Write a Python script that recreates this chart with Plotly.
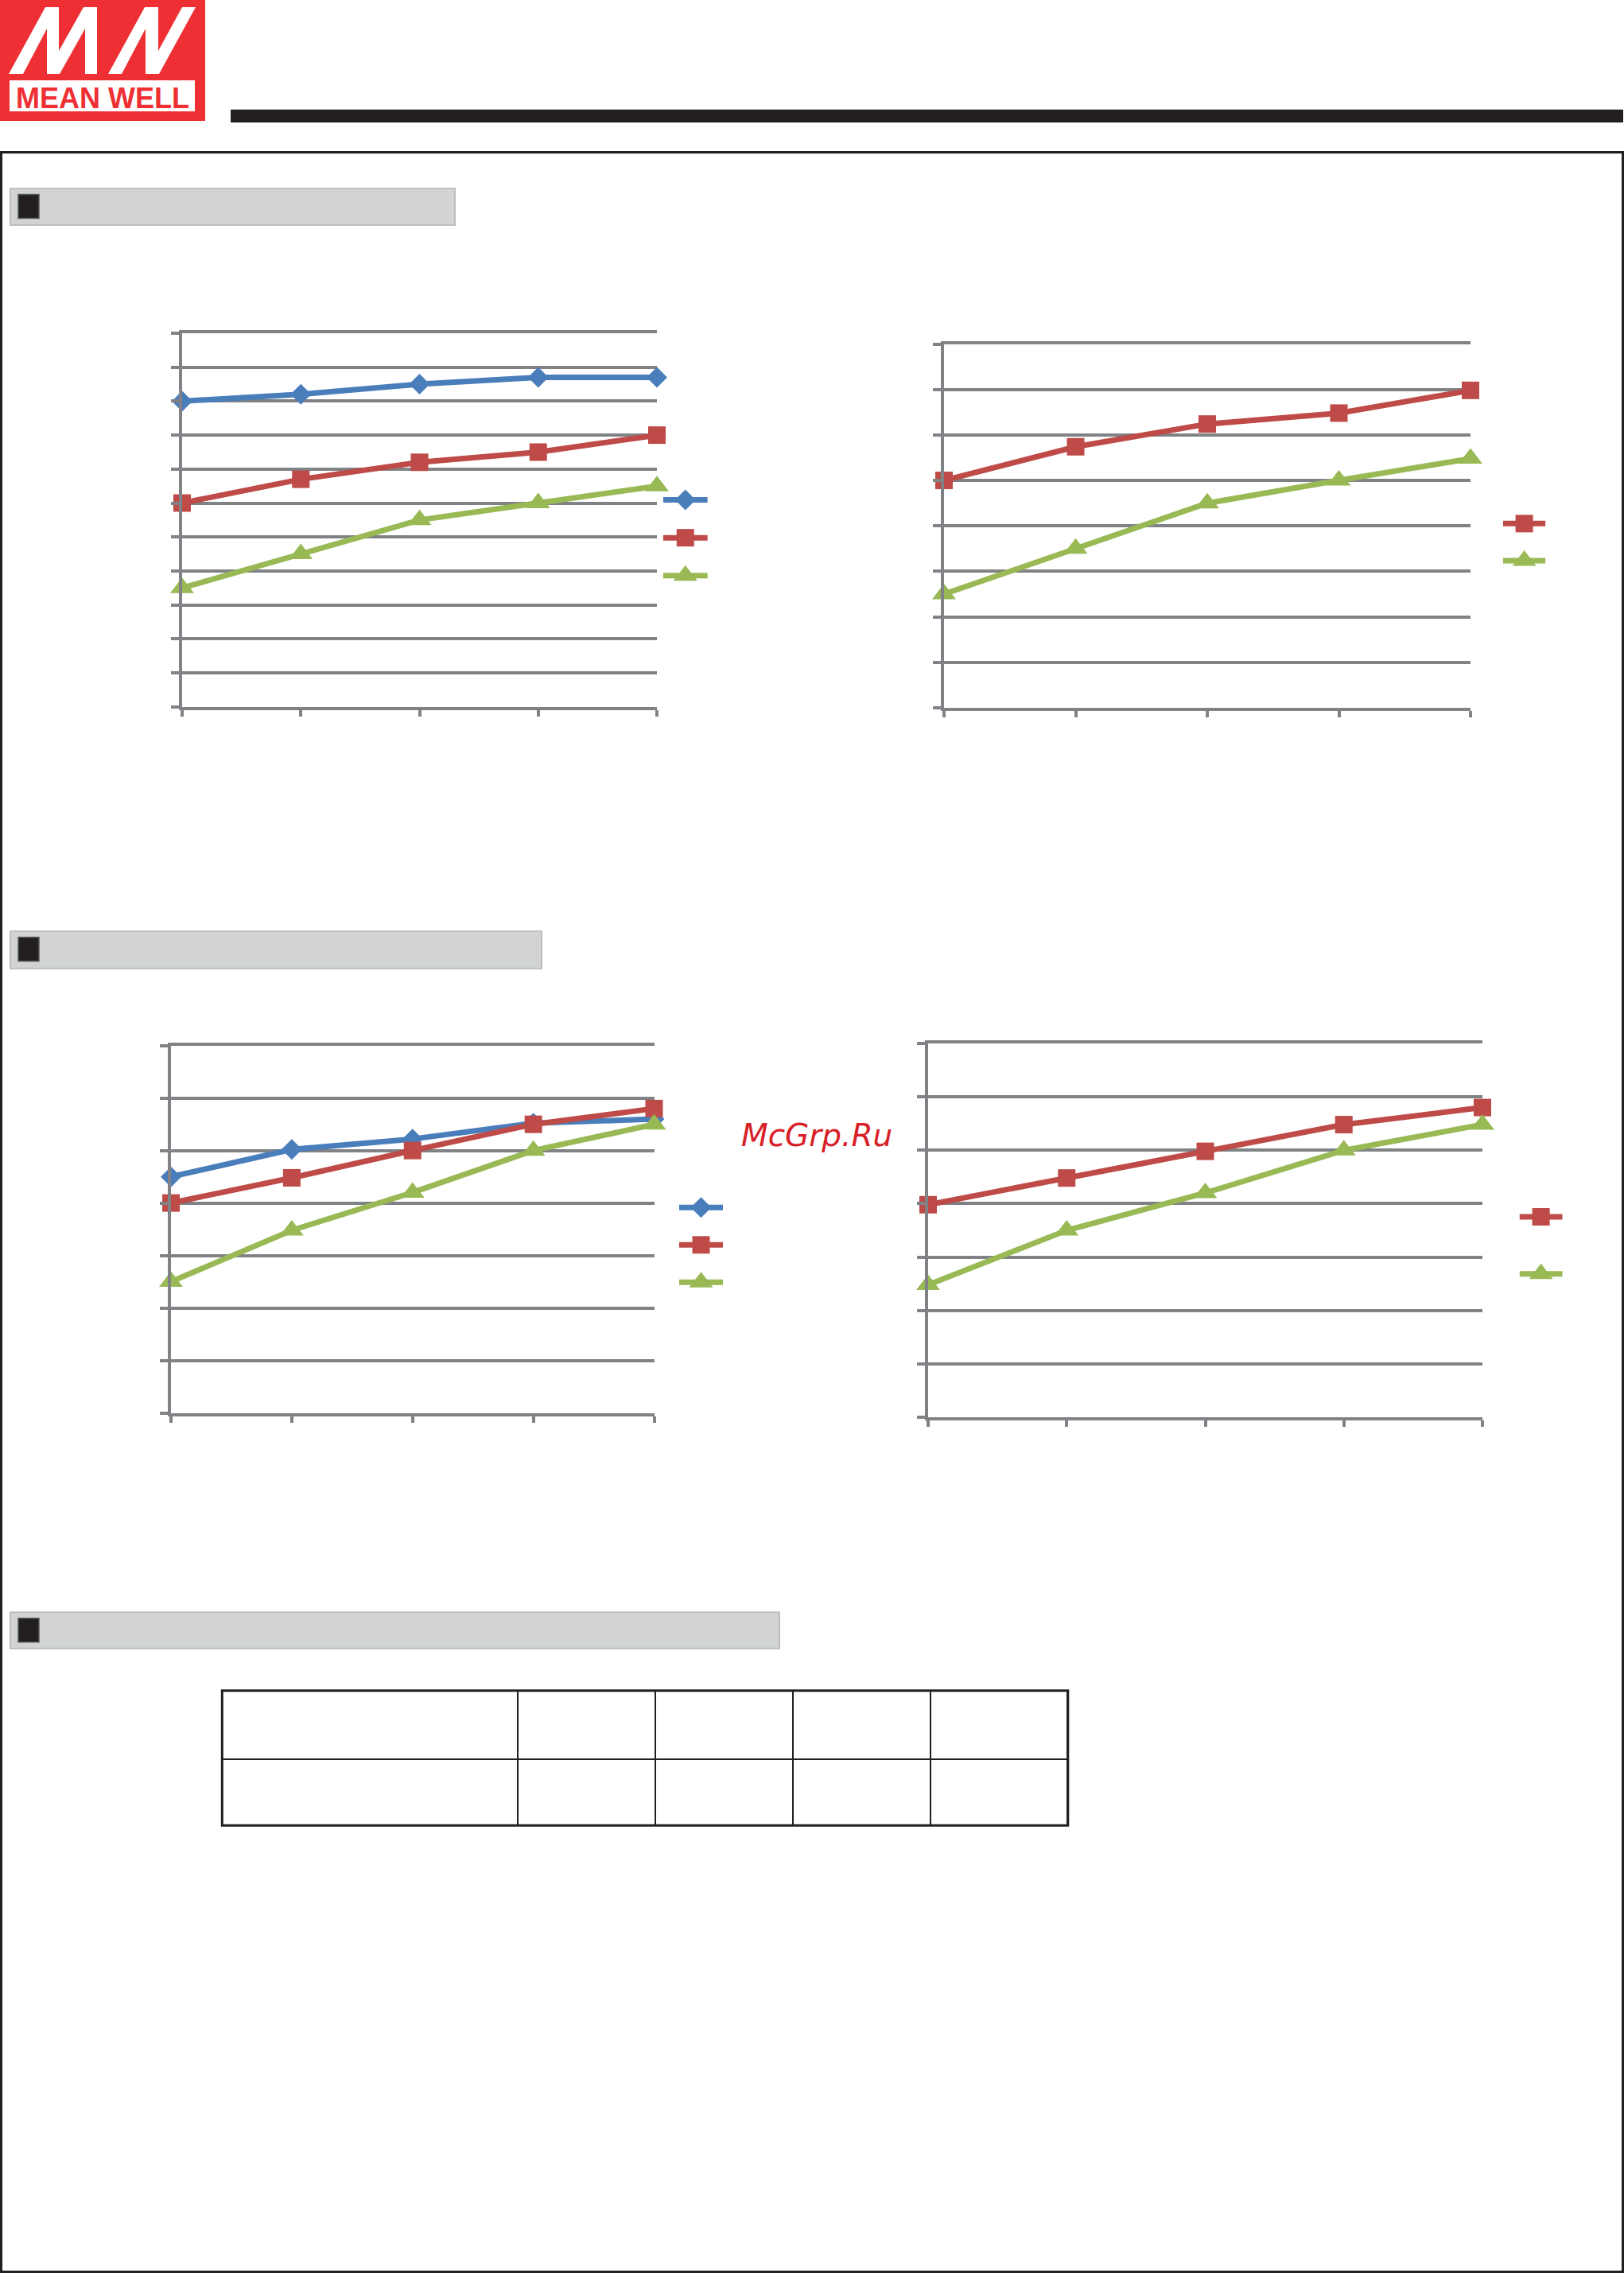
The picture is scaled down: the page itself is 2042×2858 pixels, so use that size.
import plotly.graph_objects as go

W, H = 2042, 2858

# ---------------- data ----------------
load_pct = [20, 40, 60, 80, 100]

c1_blue = [85.0, 86.0, 87.5, 88.5, 88.5]
c1_red = [70.0, 73.5, 76.0, 77.5, 80.0]
c1_green = [57.5, 62.5, 67.5, 70.0, 72.5]

c2_red = [75.0, 78.7, 81.2, 82.4, 84.9]
c2_green = [62.5, 67.5, 72.5, 75.0, 77.4]

c3_blue = [82.5, 85.1, 86.1, 87.6, 88.0]
c3_red = [80.0, 82.4, 85.0, 87.5, 89.0]
c3_green = [72.5, 77.4, 81.0, 85.0, 87.5]

c4_red = [79.9, 82.4, 84.9, 87.4, 89.0]
c4_green = [72.4, 77.5, 81.0, 85.0, 87.4]

table_cols = ["", "", "", "", ""]
table_rows = [""]

# ---------------- styling ----------------
GRID = "#808285"
INK = "#231f20"
LOGO_RED = "#ee2f33"
STYLE = {
    "blue": dict(color="#4a7ebb", symbol="diamond", size=20),
    "red": dict(color="#be4b48", symbol="square", size=22),
    "green": dict(color="#98b954", symbol="triangle-up", size=26),
}
LINE_W = 7


def px_x(x):
    return x / W


def px_y(y):
    return 1 - y / H


def dom_x(a, b):
    return [a / W, b / W]


def dom_y(top, bottom):
    return [1 - bottom / H, 1 - top / H]


charts = [
    dict(series=[("blue", c1_blue), ("red", c1_red), ("green", c1_green)],
         x=(229, 826), y=(419, 888.7), yr=(40, 95),
         lx=(833.7, 889.8), ly=(604.6, 747.7)),
    dict(series=[("red", c2_red), ("green", c2_green)],
         x=(1187, 1849), y=(432.5, 890), yr=(50, 90),
         lx=(1889.8, 1943.4), ly=(635.0, 728.4)),
    dict(series=[("blue", c3_blue), ("red", c3_red), ("green", c3_green)],
         x=(215, 822.5), y=(1314.7, 1776.5), yr=(60, 95),
         lx=(854, 909), ly=(1494.8, 1635.8)),
    dict(series=[("red", c4_red), ("green", c4_green)],
         x=(1167, 1864), y=(1312, 1782), yr=(60, 95),
         lx=(1910.5, 1964.7), ly=(1494.2, 1637.5)),
]

fig = go.Figure()
layout_axes = {}

for i, ch in enumerate(charts):
    k = i + 1
    xa, ya = f"x{k}", f"y{k}"
    for key, vals in ch["series"]:
        st = STYLE[key]
        fig.add_trace(go.Scatter(
            x=load_pct, y=vals, mode="lines+markers", xaxis=xa, yaxis=ya,
            line=dict(color=st["color"], width=LINE_W),
            marker=dict(color=st["color"], symbol=st["symbol"], size=st["size"],
                        opacity=1),
            cliponaxis=False, showlegend=False, hoverinfo="skip"))
    layout_axes[f"xaxis{k}"] = dict(
        domain=dom_x(*ch["x"]), anchor=ya, range=[load_pct[0], load_pct[-1]],
        tickvals=load_pct, showticklabels=False, ticks="outside", ticklen=8,
        tickwidth=4, tickcolor=GRID, showline=True, linecolor=GRID, linewidth=4,
        mirror=True, showgrid=False, zeroline=False, fixedrange=True)
    layout_axes[f"yaxis{k}"] = dict(
        domain=dom_y(*ch["y"]), anchor=xa, range=[ch["yr"][0], ch["yr"][1]],
        dtick=5, tick0=ch["yr"][0], showticklabels=False, ticks="outside",
        ticklen=10, tickwidth=4, tickcolor=GRID, showline=True, linecolor=GRID,
        linewidth=4, showgrid=True, gridcolor=GRID, gridwidth=4, zeroline=False,
        fixedrange=True)

    # legend keys (one row per series) on a small helper axis
    k2 = k + 4
    n = len(ch["series"])
    for row, (key, _) in enumerate(ch["series"]):
        st = STYLE[key]
        fig.add_trace(go.Scatter(
            x=[0, 1], y=[row, row], mode="lines",
            xaxis=f"x{k2}", yaxis=f"y{k2}",
            line=dict(color=st["color"], width=LINE_W),
            cliponaxis=False, showlegend=False, hoverinfo="skip"))
        fig.add_trace(go.Scatter(
            x=[0.5], y=[row], mode="markers",
            xaxis=f"x{k2}", yaxis=f"y{k2}",
            marker=dict(color=st["color"], symbol=st["symbol"], size=st["size"],
                        opacity=1),
            cliponaxis=False, showlegend=False, hoverinfo="skip"))
    layout_axes[f"xaxis{k2}"] = dict(domain=dom_x(*ch["lx"]), anchor=f"y{k2}",
                                     range=[0, 1], visible=False, fixedrange=True)
    layout_axes[f"yaxis{k2}"] = dict(domain=dom_y(*ch["ly"]), anchor=f"x{k2}",
                                     range=[n - 0.5, -0.5], visible=False,
                                     fixedrange=True)

# empty specification table
fig.add_trace(go.Table(
    domain=dict(x=dom_x(279.3, 1342.8), y=dom_y(2125.7, 2298)),
    columnwidth=[372, 173, 173, 173, 172],
    header=dict(values=table_cols, height=86, fill_color="white",
                line=dict(color=INK, width=2)),
    cells=dict(values=[table_rows for _ in table_cols], height=83,
               fill_color="white", line=dict(color=INK, width=2)),
))

shapes = []


def rect(x0, y0, x1, y1, fill=None, line=None, lw=0):
    d = dict(type="rect", xref="paper", yref="paper",
             x0=px_x(x0), x1=px_x(x1), y0=px_y(y0), y1=px_y(y1),
             line=dict(width=lw, color=line or "rgba(0,0,0,0)"), layer="above")
    d["fillcolor"] = fill if fill else "rgba(0,0,0,0)"
    return d


def poly(pts, fill):
    p = "M " + " L ".join(f"{px_x(x):.6f},{px_y(y):.6f}" for x, y in pts) + " Z"
    return dict(type="path", xref="paper", yref="paper", path=p,
                fillcolor=fill, line=dict(width=0), layer="above")


# logo
shapes.append(rect(0, 0, 258, 152, fill=LOGO_RED))
shapes.append(poly([(11, 93), (57, 9), (74, 9), (74, 64), (105, 9), (122, 9),
                    (122, 93), (107, 93), (107, 36), (75, 93), (59, 93), (59, 36),
                    (29, 93)], "white"))
shapes.append(poly([(136, 93), (182, 9), (199, 9), (199, 64), (229, 9), (246, 9),
                    (200, 93), (183, 93), (183, 36), (153, 93)], "white"))
shapes.append(rect(12, 101, 245, 140, fill="white"))
# header bar
shapes.append(rect(290, 137.7, 2041, 154, fill=INK))
# page frame
shapes.append(rect(1.5, 191.5, 2040.5, 2856.5, line=INK, lw=3))
# section headers
for (y0, y1, x1) in [(237, 283, 572), (1171, 1217.7, 681), (2027.3, 2072.7, 980)]:
    shapes.append(rect(13, y0, x1, y1, fill="#d1d3d4", line="#bcbec0", lw=2))
    shapes.append(rect(23, y0 + 7.5, 49, y0 + 37.5, fill=INK, line="#58595b", lw=1.5))
# thick outer border of table
shapes.append(rect(279.3, 2125.7, 1342.8, 2295.3, line=INK, lw=3))

annotations = [
    dict(text="MEAN WELL", x=px_x(129), y=px_y(123), xref="paper", yref="paper",
         xanchor="center", yanchor="middle", showarrow=False,
         font=dict(family="Liberation Sans", size=36, color=LOGO_RED, weight="bold")),
    dict(text="McGrp.Ru", x=px_x(1026.5), y=px_y(1428), xref="paper", yref="paper",
         xanchor="center", yanchor="middle", showarrow=False,
         font=dict(family="DejaVu Sans", size=39, color="#d82027", style="italic")),
]

fig.update_layout(
    width=W, height=H, autosize=False,
    margin=dict(l=0, r=0, t=0, b=0, pad=0),
    paper_bgcolor="white", plot_bgcolor="rgba(0,0,0,0)",
    showlegend=False, hovermode=False,
    shapes=shapes, annotations=annotations,
    **layout_axes,
)

fig.write_html("out.html", config={"displayModeBar": False, "staticPlot": True},
               post_script="document.body.style.margin='0';"
                           "document.documentElement.style.overflow='hidden';")
